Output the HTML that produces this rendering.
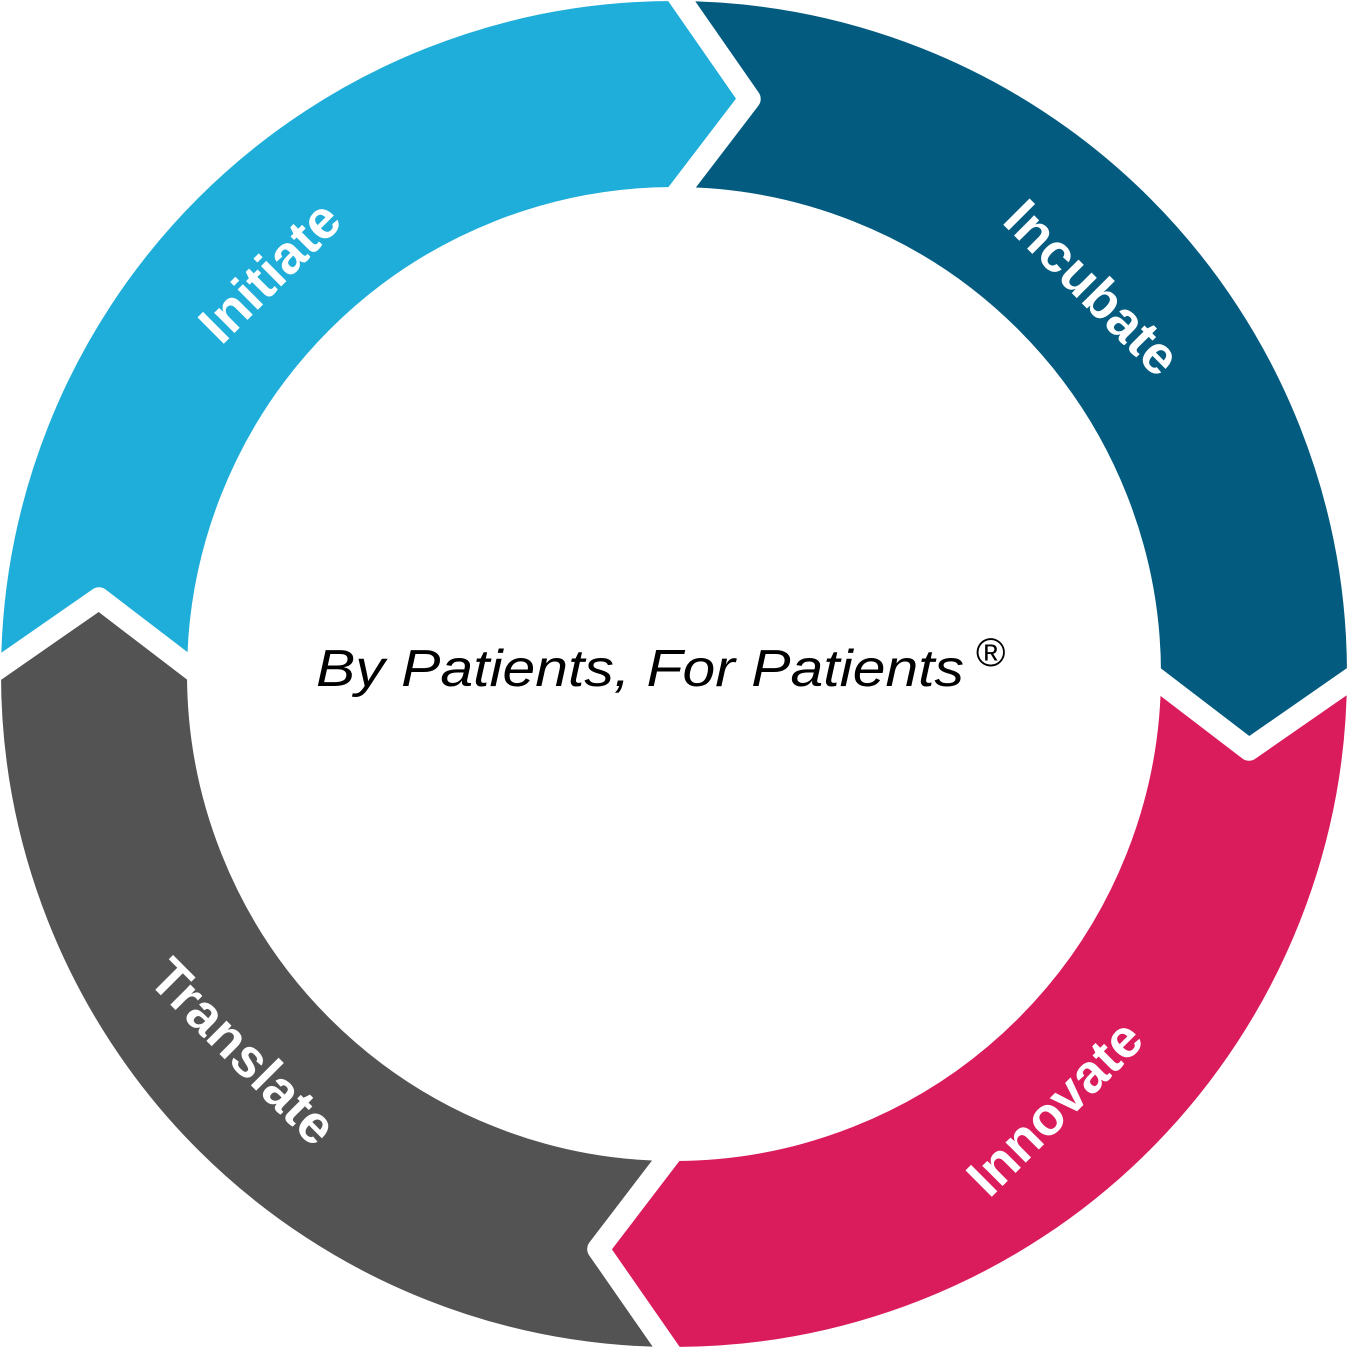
<!DOCTYPE html>
<html><head><meta charset="utf-8"><style>
html,body{margin:0;padding:0;background:#fff;}
svg{display:block}
</style></head><body>
<svg id="s" width="1348" height="1348" viewBox="0 0 1348 1348" xmlns="http://www.w3.org/2000/svg">
<g id="segs"></g>
<g font-family="'Liberation Sans', sans-serif" font-weight="bold" font-size="54" fill="#fff" text-anchor="middle" dominant-baseline="central">
<text transform="translate(270,272) rotate(-45)">Initiate</text>
<text transform="translate(1092,288) rotate(45)">Incubate</text>
<text transform="translate(1055,1108) rotate(-45)">Innovate</text>
<text transform="translate(243,1052) rotate(45)">Translate</text>
</g>
<text x="316" y="686" font-family="'Liberation Sans', sans-serif" font-style="italic" font-size="52" fill="#000" textLength="648" lengthAdjust="spacingAndGlyphs">By Patients, For Patients</text>
<text x="976" y="666" font-family="'Liberation Sans', sans-serif" font-size="40" fill="#000">®</text>
</svg>
<script>
(function(){
var c=674,Ro=684,Ri=476,Rm=580,d=7.5;
function p(a,r){var t=a*Math.PI/180;return (c+r*Math.cos(t)).toFixed(2)+","+(c+r*Math.sin(t)).toFixed(2);}
var segs=[[90,"#535353"],[180,"#1eaed9"],[270,"#035c80"],[0,"#da1c5c"]];
var g=document.getElementById("segs"),h="";
segs.forEach(function(s){
 var a=s[0],e=a+90;
 var dd="M"+p(a,Ro)+" A"+Ro+","+Ro+" 0 0 1 "+p(e,Ro)+" L"+p(e+d,Rm)+" L"+p(e,Ri)+" A"+Ri+","+Ri+" 0 0 0 "+p(a,Ri)+" L"+p(a+d,Rm)+" Z";
 h+='<path d="'+dd+'" fill="'+s[1]+'" stroke="#fff" stroke-width="22" stroke-linejoin="round"/>';
});
g.innerHTML=h;
})();
</script>
</body></html>
